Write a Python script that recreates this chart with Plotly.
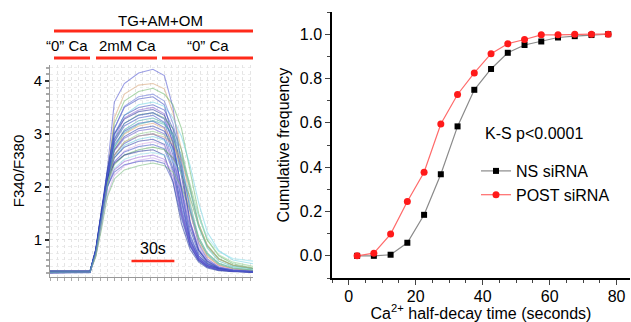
import plotly.graph_objects as go

# ---------------- Right panel data ----------------
bin_centers = [2.5, 7.5, 12.5, 17.5, 22.5, 27.5, 32.5, 37.5, 42.5, 47.5, 52.5, 57.5, 62.5, 67.5, 72.5, 77.5]
ns_sirna = [0.0, 0.0, 0.005, 0.059, 0.185, 0.368, 0.584, 0.749, 0.843, 0.916, 0.951, 0.967, 0.985, 0.991, 0.996, 1.0]
post_sirna = [0.0, 0.012, 0.098, 0.245, 0.377, 0.595, 0.728, 0.825, 0.912, 0.957, 0.976, 0.997, 0.997, 1.0, 1.0, 1.0]

# ---------------- Left panel data (F340/F380 traces) ----------------
trace_times = [0, 28, 32, 36, 40, 45, 52, 62, 72, 80, 86, 92, 98, 104, 110, 118, 128, 142]
tr01 = [0.40,0.40,0.80,1.50,2.30,3.60,3.95,4.15,4.22,4.10,3.50,2.40,1.30,0.80,0.60,0.48,0.43,0.40]
tr02 = [0.38,0.39,0.72,1.40,2.20,3.30,3.75,3.92,3.95,3.85,3.40,2.70,1.70,1.00,0.70,0.52,0.45,0.41]
tr03 = [0.41,0.41,0.75,1.38,2.15,3.20,3.62,3.80,3.86,3.75,3.55,3.10,2.30,1.50,1.00,0.70,0.55,0.47]
tr04 = [0.39,0.40,0.78,1.45,2.25,3.10,3.50,3.66,3.70,3.55,2.90,1.90,1.05,0.70,0.55,0.46,0.42,0.40]
tr05 = [0.40,0.40,0.70,1.30,2.05,2.95,3.35,3.55,3.60,3.52,3.30,2.95,2.40,1.70,1.15,0.80,0.62,0.55]
tr06 = [0.37,0.38,0.74,1.36,2.10,2.90,3.30,3.45,3.50,3.38,2.80,1.80,1.00,0.68,0.52,0.45,0.41,0.39]
tr07 = [0.40,0.41,0.82,1.55,2.30,3.00,3.28,3.42,3.46,3.35,3.00,2.20,1.30,0.80,0.58,0.47,0.43,0.41]
tr08 = [0.42,0.42,0.76,1.40,2.15,2.85,3.20,3.36,3.40,3.30,3.10,2.70,2.00,1.30,0.90,0.65,0.52,0.46]
tr09 = [0.38,0.39,0.79,1.48,2.20,2.85,3.15,3.30,3.35,3.22,2.70,1.75,1.00,0.66,0.52,0.45,0.41,0.39]
tr10 = [0.39,0.40,0.73,1.35,2.05,2.75,3.08,3.25,3.30,3.20,2.95,2.40,1.60,1.00,0.72,0.54,0.46,0.42]
tr11 = [0.41,0.41,0.80,1.50,2.20,2.80,3.05,3.20,3.24,3.12,2.60,1.70,0.98,0.65,0.51,0.44,0.41,0.40]
tr12 = [0.40,0.40,0.70,1.30,2.00,2.70,3.00,3.15,3.20,3.10,2.85,2.30,1.50,0.95,0.68,0.52,0.45,0.42]
tr13 = [0.38,0.39,0.77,1.45,2.15,2.70,2.95,3.10,3.15,3.05,2.75,2.00,1.20,0.75,0.56,0.46,0.42,0.40]
tr14 = [0.39,0.39,0.81,1.52,2.20,2.68,2.92,3.06,3.10,3.00,2.50,1.55,0.92,0.63,0.50,0.44,0.41,0.39]
tr15 = [0.41,0.42,0.72,1.32,2.00,2.60,2.85,3.00,3.05,2.98,2.85,2.55,2.05,1.45,1.00,0.72,0.58,0.50]
tr16 = [0.40,0.40,0.78,1.46,2.15,2.60,2.82,2.96,3.00,2.90,2.45,1.60,0.95,0.64,0.51,0.45,0.42,0.40]
tr17 = [0.38,0.38,0.74,1.38,2.05,2.55,2.78,2.90,2.95,2.88,2.70,2.30,1.65,1.05,0.75,0.56,0.48,0.43]
tr18 = [0.39,0.40,0.80,1.50,2.15,2.55,2.75,2.86,2.90,2.80,2.35,1.50,0.90,0.62,0.50,0.44,0.41,0.39]
tr19 = [0.40,0.41,0.70,1.28,1.95,2.45,2.68,2.80,2.85,2.78,2.55,2.05,1.35,0.88,0.64,0.50,0.44,0.41]
tr20 = [0.41,0.41,0.79,1.48,2.10,2.48,2.66,2.76,2.80,2.72,2.30,1.45,0.88,0.61,0.49,0.43,0.41,0.40]
tr21 = [0.39,0.40,0.75,1.40,2.05,2.42,2.60,2.70,2.75,2.70,2.55,2.25,1.80,1.25,0.88,0.64,0.52,0.46]
tr22 = [0.38,0.39,0.82,1.55,2.15,2.45,2.60,2.67,2.70,2.60,2.10,1.30,0.82,0.58,0.47,0.42,0.40,0.39]
tr23 = [0.40,0.40,0.72,1.33,1.98,2.35,2.52,2.61,2.65,2.60,2.48,2.25,1.90,1.45,1.05,0.78,0.65,0.60]
tr24 = [0.41,0.41,0.74,1.36,2.00,2.32,2.48,2.56,2.60,2.52,2.20,1.50,0.92,0.63,0.50,0.44,0.41,0.40]
tr25 = [0.39,0.39,0.70,1.25,1.85,2.22,2.40,2.50,2.55,2.48,2.30,1.90,1.30,0.85,0.62,0.49,0.43,0.40]
tr26 = [0.40,0.40,0.68,1.20,1.80,2.15,2.32,2.40,2.45,2.40,2.28,2.00,1.55,1.05,0.75,0.56,0.47,0.43]
tr27 = [0.40,0.40,0.80,1.52,2.25,3.00,3.35,3.50,3.55,3.45,3.10,2.30,1.35,0.82,0.60,0.48,0.43,0.41]
tr28 = [0.39,0.39,0.76,1.42,2.18,3.10,3.52,3.70,3.75,3.62,3.20,2.50,1.55,0.92,0.64,0.49,0.43,0.40]
tr29 = [0.40,0.40,0.72,1.34,2.02,2.60,2.85,2.96,3.00,2.94,2.80,2.50,1.95,1.30,0.90,0.64,0.52,0.46]
tr30 = [0.41,0.41,0.81,1.50,2.22,2.90,3.20,3.35,3.40,3.28,2.85,1.95,1.10,0.70,0.54,0.46,0.42,0.40]
tr31 = [0.40,0.40,0.77,1.42,2.00,2.28,2.42,2.48,2.50,2.44,2.10,1.40,0.88,0.61,0.49,0.43,0.41,0.40]
tr32 = [0.39,0.40,0.74,1.36,2.05,2.75,3.02,3.18,3.25,3.18,3.00,2.60,1.95,1.25,0.85,0.60,0.50,0.45]

all_traces = [tr01, tr02, tr03, tr04, tr05, tr06, tr07, tr08, tr09, tr10, tr11, tr12, tr13, tr14, tr15, tr16,
              tr17, tr18, tr19, tr20, tr21, tr22, tr23, tr24, tr25, tr26, tr27, tr28, tr29, tr30, tr31, tr32]
trace_colors = ["#4a50d0", "#d8a274", "#6ab86a", "#3a48c0", "#70d4e4", "#8c62d4", "#28389c", "#60b070",
                "#3f55c8", "#40a8a8", "#3a4cc4", "#e0a070", "#2e42b0", "#6a5cd0", "#90d090", "#3c50c8",
                "#68cce0", "#2a3ca8", "#d8a8e8", "#4458cc", "#58a860", "#22349a", "#90e0ec", "#9466d8",
                "#c8a0f0", "#70b878", "#3448bc", "#6070d8", "#d0a880", "#3a4ec8", "#4050c0", "#50b8b0"]

FONT = "Liberation Sans, Arial, sans-serif"
RED = "#ff2a1a"

fig = go.Figure()

for vals, col in zip(all_traces, trace_colors):
    fig.add_trace(go.Scatter(x=trace_times, y=vals, mode="lines", xaxis="x", yaxis="y",
                             line=dict(color=col, width=1.1), opacity=0.55, showlegend=False,
                             hoverinfo="skip"))

fig.add_trace(go.Scatter(x=bin_centers, y=ns_sirna, mode="lines+markers", name="NS siRNA",
                         xaxis="x2", yaxis="y2",
                         line=dict(color="#8a8a8a", width=1.2),
                         marker=dict(symbol="square", size=6, color="black")))
fig.add_trace(go.Scatter(x=bin_centers, y=post_sirna, mode="lines+markers", name="POST siRNA",
                         xaxis="x2", yaxis="y2",
                         line=dict(color="#ff6a6a", width=1.2),
                         marker=dict(symbol="circle", size=7, color="#ff1a1a")))

W, H = 631, 322
def px(x):
    return x / W
def py(y):
    return 1 - y / H

fig.update_layout(
    width=W, height=H, margin=dict(l=0, r=0, t=0, b=0),
    paper_bgcolor="white", plot_bgcolor="white",
    font=dict(family=FONT, size=15, color="black"),
    xaxis=dict(domain=[px(50), px(253)], range=[0, 142], anchor="y",
               showgrid=True, gridcolor="#e4e4e4", griddash="dot", dtick=5, tick0=0,
               showticklabels=False, ticks="outside", ticklen=3, tickcolor="#aaaaaa",
               showline=True, linecolor="#999999", linewidth=1, zeroline=False),
    yaxis=dict(domain=[py(277), py(65)], range=[0.3, 4.3], anchor="x",
               tickvals=[1, 2, 3, 4], ticktext=["1", "2", "3", "4"],
               ticks="outside", ticklen=4, tickcolor="#333333", tickwidth=1.5,
               showgrid=True, gridcolor="#e4e4e4", griddash="dot",
               minor=dict(dtick=0.125, tick0=0, ticks="outside", ticklen=3, tickcolor="#aaaaaa",
                          showgrid=True, gridcolor="#ececec", griddash="dot"),
               showline=True, linecolor="#999999", linewidth=1, zeroline=False,
               tickfont=dict(size=15),
               title=dict(text="F340/F380", font=dict(size=15), standoff=5)),
    xaxis2=dict(domain=[px(332), px(630)], range=[-5, 84], anchor="y2",
                tickvals=[0, 20, 40, 60, 80], ticks="outside", ticklen=5, tickwidth=1.2,
                ticklabelstandoff=-2,
                minor=dict(dtick=5, tick0=0, ticks="outside", ticklen=3),
                showline=True, linecolor="black", linewidth=1.5, showgrid=False, zeroline=False,
                tickfont=dict(size=16),
                title=dict(text="Ca<sup>2+</sup> half-decay time (seconds)", font=dict(size=16), standoff=7)),
    yaxis2=dict(domain=[py(278), py(12)], range=[-0.1, 1.1], anchor="x2",
                tickvals=[0, 0.2, 0.4, 0.6, 0.8, 1.0], tickformat=".1f",
                ticks="outside", ticklen=5, tickwidth=1.2,
                minor=dict(dtick=0.1, tick0=0, ticks="outside", ticklen=3),
                showline=True, linecolor="black", linewidth=1.5, showgrid=False, zeroline=False,
                tickfont=dict(size=16),
                title=dict(text="Cumulative frequency", font=dict(size=16), standoff=6)),
    legend=dict(x=px(476), y=py(154), xanchor="left", yanchor="top",
                font=dict(size=16), bgcolor="rgba(0,0,0,0)", tracegroupgap=0, itemwidth=30),
    showlegend=True,
)

# Top condition labels and bars
fig.add_annotation(x=px(160), y=py(20), xref="paper", yref="paper", text="TG+AM+OM",
                   xanchor="center", yanchor="middle", showarrow=False, font=dict(size=15))
fig.add_shape(type="line", xref="paper", yref="paper", x0=px(54), x1=px(253), y0=py(31), y1=py(31),
              line=dict(color=RED, width=3))
for label, cx, x0, x1 in [("\u201c0\u201d Ca", 67, 54, 90), ("2mM Ca", 127, 96, 157), ("\u201c0\u201d Ca", 208, 162, 253)]:
    fig.add_annotation(x=px(cx), y=py(46), xref="paper", yref="paper", text=label,
                       xanchor="center", yanchor="middle", showarrow=False, font=dict(size=15))
    fig.add_shape(type="line", xref="paper", yref="paper", x0=px(x0), x1=px(x1), y0=py(58), y1=py(58),
                  line=dict(color=RED, width=3))

# 30 s scale bar in data coordinates
fig.add_shape(type="line", xref="x", yref="y", x0=57, x1=87, y0=0.6, y1=0.6,
              line=dict(color=RED, width=2.5))
fig.add_annotation(x=72, y=0.6, xref="x", yref="y", yshift=13, text="30s", showarrow=False,
                   xanchor="center", yanchor="middle", font=dict(size=16))

# K-S annotation
fig.add_annotation(x=px(534), y=py(133), xref="paper", yref="paper", text="K-S p<0.0001",
                   xanchor="center", yanchor="middle", showarrow=False, font=dict(size=16))

fig.write_html("out.html", config={"displayModeBar": False},
               post_script="document.body.style.margin='0px';document.body.style.overflow='hidden';")
